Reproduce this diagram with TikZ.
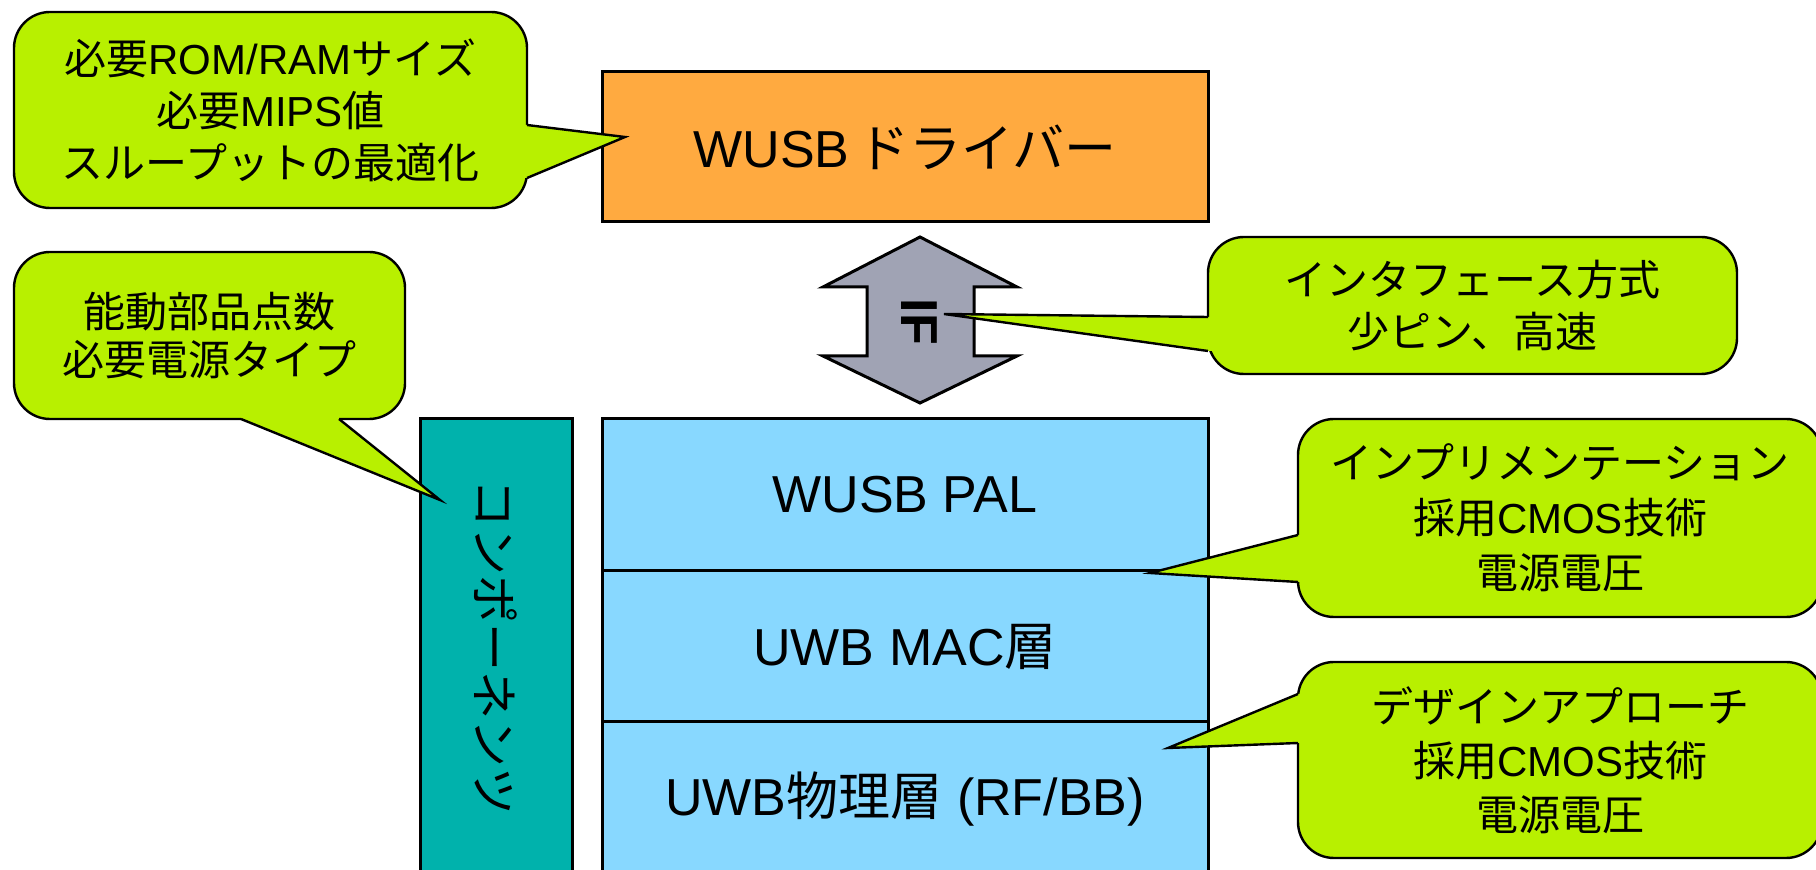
\documentclass[tikz,border=0pt]{standalone}
\usepackage{fontspec}
\setmainfont{Liberation Sans}
\newfontfamily\jp{Noto Sans CJK JP}
\newcommand\J[1]{{\jp #1}}
\definecolor{cgreen}{RGB}{184,240,0}
\definecolor{drvorange}{RGB}{255,170,64}
\definecolor{layerblue}{RGB}{136,216,255}
\definecolor{compteal}{RGB}{0,178,172}
\definecolor{ifgray}{RGB}{160,163,180}
\begin{document}
\begin{tikzpicture}[x=0.5pt,y=-0.5pt,
  box/.style={draw=black, line width=1.5pt, inner sep=0pt, font=\fontsize{26}{30}\selectfont},
  callout/.style={draw=black, fill=cgreen, line width=1.2pt, rounded corners=18pt, inner sep=0pt, align=center},
  cfont/.style={font=\fontsize{21}{#1}\selectfont},
  ptrfill/.style={fill=cgreen},
  ptr/.style={draw=black, line width=1.2pt, line join=miter}]
\clip (0,0) rectangle (1816,870);
\fill[white] (0,0) rectangle (1816,870);

% double arrow
\draw[line width=1.5pt, fill=ifgray, line join=miter]
  (920,237) -- (1017,287) -- (974,287) -- (974,356) -- (1017,356) -- (920,403)
  -- (823,356) -- (867,356) -- (867,287) -- (823,287) -- cycle;

% main boxes
\node[box, fill=drvorange, minimum width=303pt, minimum height=75pt] (drv) at (905,147) {WUSB\hspace{4pt}\J{ドライバー}};
\node[box, fill=layerblue, minimum width=303pt, minimum height=76pt] (pal) at (905,495) {WUSB PAL};
\node[box, fill=layerblue, minimum width=303pt, minimum height=75.5pt] (mac) at (905,646.5) {UWB MAC\J{層}};
\node[box, fill=layerblue, minimum width=303pt, minimum height=77pt] (phy) at (905,799) {UWB\J{物理層} (RF/BB)};
\node[box, fill=compteal, minimum width=76pt, minimum height=228.5pt] (comp) at (496,647.5) {};
\node[rotate=-90, font=\fontsize{24}{28}\selectfont] (complbl) at (496,648) {\J{コンポーネンツ}};

% callout 1
\node[callout, cfont=26, minimum width=256.5pt, minimum height=98pt] (c1) at (270.5,110)
  {\J{必要}ROM/RAM\J{サイズ}\\ \J{必要}MIPS\J{値}\\ \J{スループットの最適化}};
\coordinate (c1a) at (527,125); \coordinate (c1b) at (527,178); \coordinate (c1t) at (625,137);
\fill[ptrfill] ([xshift=-3pt]c1a) -- (c1a) -- (c1t) -- (c1b) -- ([xshift=-3pt]c1b) -- cycle;
\draw[ptr] (c1a) -- (c1t) -- (c1b);

% callout 2
\node[callout, cfont=24, minimum width=195.5pt, minimum height=83.5pt] (c2) at (209.5,335.5)
  {\J{能動部品点数}\\ \J{必要電源タイプ}};
\coordinate (c2a) at (241,419); \coordinate (c2b) at (339,419); \coordinate (c2t) at (440,500);
\fill[ptrfill] ([yshift=3pt]c2a) -- (c2a) -- (c2t) -- (c2b) -- ([yshift=3pt]c2b) -- cycle;
\draw[ptr] (c2a) -- (c2t) -- (c2b);

% callout IF
\node[callout, cfont=26, minimum width=264.5pt, minimum height=68.5pt] (cif) at (1472.5,305.5)
  {\J{インタフェース方式}\\ \J{少ピン、高速}};
\coordinate (cifa) at (1208,317); \coordinate (cifb) at (1208,351); \coordinate (cift) at (944,314);
\fill[ptrfill] ([xshift=3pt]cifa) -- (cifa) -- (cift) -- (cifb) -- ([xshift=3pt]cifb) -- cycle;
\draw[ptr] (cifa) -- (cift) -- (cifb);

% callout 3
\node[callout, cfont=27.5, minimum width=262pt, minimum height=99pt] (c3) at (1560,518)
  {\J{インプリメンテーション}\\ \J{採用}CMOS\J{技術}\\ \J{電源電圧}};
\coordinate (c3a) at (1298,535); \coordinate (c3b) at (1298,582); \coordinate (c3t) at (1150,573);
\fill[ptrfill] ([xshift=3pt]c3a) -- (c3a) -- (c3t) -- (c3b) -- ([xshift=3pt]c3b) -- cycle;
\draw[ptr] (c3a) -- (c3t) -- (c3b);

% callout 4
\node[callout, cfont=27, minimum width=262pt, minimum height=98pt] (c4) at (1560,760)
  {\J{デザインアプローチ}\\ \J{採用}CMOS\J{技術}\\ \J{電源電圧}};
\coordinate (c4a) at (1298,694); \coordinate (c4b) at (1298,743); \coordinate (c4t) at (1168,748);
\fill[ptrfill] ([xshift=3pt]c4a) -- (c4a) -- (c4t) -- (c4b) -- ([xshift=3pt]c4b) -- cycle;
\draw[ptr] (c4a) -- (c4t) -- (c4b);

% IF label
\node[rotate=-90, font=\bfseries\fontsize{26}{30}\selectfont, inner sep=0pt] (iflbl) at (919,322) {IF};
\end{tikzpicture}
\end{document}
